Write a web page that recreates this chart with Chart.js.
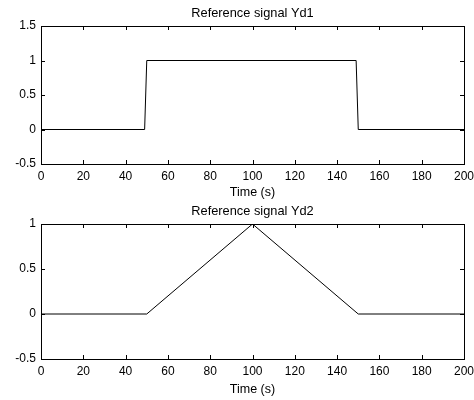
<!DOCTYPE html>
<html>
<head>
<meta charset="utf-8">
<script src="https://cdn.jsdelivr.net/npm/chart.js@4.4.1/dist/chart.umd.min.js"></script>
<style>
  html, body { margin: 0; padding: 0; background: #fff; }
  .plot { position: absolute; left: 0; width: 474px; height: 200px; }
</style>
</head>
<body>
<div class="plot" style="top:0"><canvas id="yd1"></canvas></div>
<div class="plot" style="top:200px"><canvas id="yd2"></canvas></div>
<script>
// Yd1: step signal
const yd1Time = [0, 49, 50, 149, 150, 200];
const yd1Value = [0, 0, 1, 1, 0, 0];

// Yd2: triangle signal
const yd2Time = [0, 50, 100, 150, 200];
const yd2Value = [0, 0, 1, 0, 0];

const xTicks = [0, 20, 40, 60, 80, 100, 120, 140, 160, 180, 200];
const yd1Ticks = [-0.5, 0, 0.5, 1, 1.5];
const yd2Ticks = [-0.5, 0, 0.5, 1];

const FONT = 'Liberation Sans, Arial, sans-serif';

// MATLAB style box with inward ticks on all four sides, plus the title
const boxPlugin = {
  id: 'box',
  afterDraw(chart, args, opts) {
    const { ctx, chartArea: a, scales } = chart;
    const len = 4;
    ctx.save();
    ctx.strokeStyle = '#000';
    ctx.lineWidth = 1;
    ctx.beginPath();
    scales.x.ticks.forEach(t => {
      const px = Math.round(scales.x.getPixelForValue(t.value)) + 0.5;
      ctx.moveTo(px, a.bottom); ctx.lineTo(px, a.bottom - len);
      ctx.moveTo(px, a.top); ctx.lineTo(px, a.top + len);
    });
    scales.y.ticks.forEach(t => {
      const py = Math.round(scales.y.getPixelForValue(t.value)) + 0.5;
      ctx.moveTo(a.left, py); ctx.lineTo(a.left + len, py);
      ctx.moveTo(a.right, py); ctx.lineTo(a.right - len, py);
    });
    ctx.stroke();
    ctx.strokeRect(Math.round(a.left) + 0.5, Math.round(a.top) + 0.5,
      Math.round(a.right - a.left), Math.round(a.bottom - a.top));
    ctx.fillStyle = '#000';
    ctx.font = '12.8px ' + FONT;
    ctx.textAlign = 'center';
    ctx.textBaseline = 'middle';
    ctx.fillText(opts.text, (a.left + a.right) / 2, opts.y);
    ctx.restore();
  }
};

function makePlot(id, xs, ys, yTicks, title, titleY, top, xHeight, xTitlePad) {
  const ctx = document.getElementById(id).getContext('2d');
  return new Chart(ctx, {
    type: 'scatter',
    data: {
      datasets: [{
        data: xs.map((x, i) => ({ x: x, y: ys[i] })),
        showLine: true,
        borderColor: '#000',
        borderWidth: 1,
        pointRadius: 0,
        tension: 0
      }]
    },
    options: {
      animation: false,
      responsive: true,
      maintainAspectRatio: false,
      layout: { padding: { top: top, right: 10, left: 0, bottom: 0 } },
      plugins: {
        legend: { display: false },
        tooltip: { enabled: false },
        box: { text: title, y: titleY }
      },
      scales: {
        x: {
          type: 'linear',
          min: xTicks[0],
          max: xTicks[xTicks.length - 1],
          afterBuildTicks: (s) => { s.ticks = xTicks.map(v => ({ value: v })); },
          afterFit: (s) => { s.height = xHeight; s.paddingLeft = 0; s.paddingRight = 0; },
          grid: { display: false, drawTicks: false },
          border: { display: false },
          ticks: {
            color: '#000', padding: 5, maxRotation: 0,
            callback: (v) => String(v),
            font: { family: FONT, size: 12 }
          },
          title: {
            display: true,
            text: 'Time (s)',
            color: '#000',
            padding: { top: 0, bottom: xTitlePad },
            font: { family: FONT, size: 12.5 }
          }
        },
        y: {
          min: yTicks[0],
          max: yTicks[yTicks.length - 1],
          afterBuildTicks: (s) => { s.ticks = yTicks.map(v => ({ value: v })); },
          afterFit: (s) => { s.width = 41; s.paddingTop = 0; s.paddingBottom = 0; },
          grid: { display: false, drawTicks: false },
          border: { display: false },
          ticks: {
            color: '#000', padding: 5,
            callback: (v) => String(v),
            font: { family: FONT, size: 12 }
          }
        }
      }
    },
    plugins: [boxPlugin]
  });
}

makePlot('yd1', yd1Time, yd1Value, yd1Ticks, 'Reference signal Yd1', 13.5, 26, 36, 0);
makePlot('yd2', yd2Time, yd2Value, yd2Ticks, 'Reference signal Yd2', 11, 24, 41, 3);
</script>
</body>
</html>
